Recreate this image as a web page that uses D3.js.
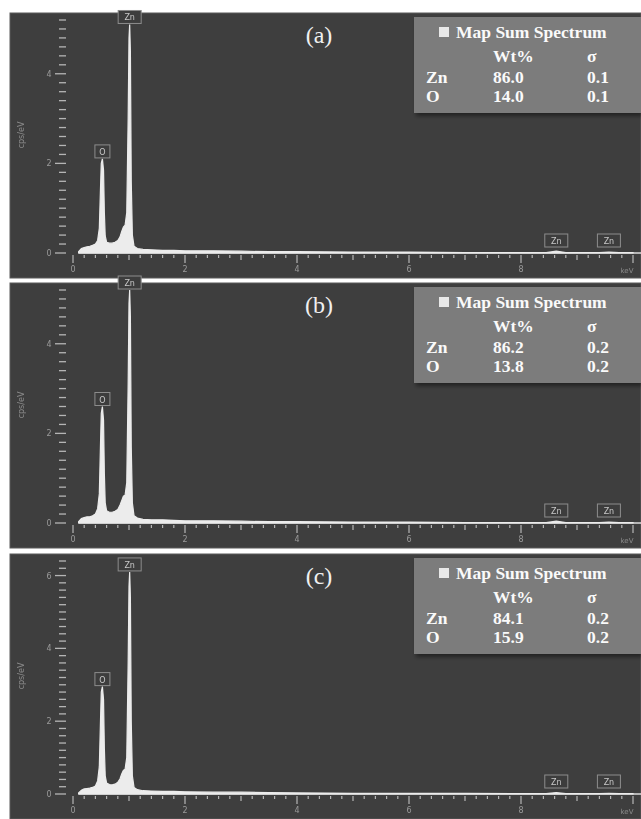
<!DOCTYPE html>
<html>
<head>
<meta charset="utf-8">
<script src="https://cdn.jsdelivr.net/npm/d3@7"></script>
<style>
  body { margin: 0; background: #fff; }
  svg { display: block; }
</style>
</head>
<body>
<div id="chart"></div>
<script>
(function () {

  /**
   * Spectrum data (cps/eV vs keV)
   */
  const energy = [0.10, 0.15, 0.20, 0.25, 0.30, 0.35, 0.40, 0.44, 0.47, 0.49, 0.505, 0.525, 0.545, 0.56, 0.575,
    0.60, 0.65, 0.70, 0.75, 0.80, 0.84, 0.87, 0.90, 0.93, 0.96, 0.985, 1.00, 1.012, 1.025, 1.04, 1.06, 1.09,
    1.15, 1.25, 1.40, 1.60, 1.80, 2.00, 2.50, 3.00, 3.50, 4.00, 5.00, 6.00, 7.00, 8.00, 8.45, 8.63, 8.80,
    9.40, 9.57, 9.75, 10.0];
  const countsA = [0.03, 0.10, 0.12, 0.14, 0.15, 0.17, 0.20, 0.28, 0.55, 1.40, 2.00, 2.10, 1.85, 0.90, 0.38,
    0.24, 0.22, 0.22, 0.24, 0.28, 0.36, 0.48, 0.58, 0.62, 0.90, 3.00, 4.80, 5.10, 4.50, 1.60, 0.40, 0.15,
    0.10, 0.08, 0.07, 0.06, 0.06, 0.05, 0.05, 0.04, 0.03, 0.03, 0.02, 0.02, 0.01, 0.01, 0.01, 0.04, 0.01,
    0.01, 0.02, 0.01, 0.01];
  const countsB = [0.03, 0.10, 0.12, 0.14, 0.14, 0.16, 0.20, 0.32, 0.65, 1.70, 2.45, 2.60, 2.30, 1.10, 0.45,
    0.27, 0.24, 0.24, 0.26, 0.30, 0.40, 0.50, 0.60, 0.62, 0.90, 3.10, 4.90, 5.20, 4.60, 1.70, 0.45, 0.16,
    0.11, 0.08, 0.07, 0.07, 0.06, 0.05, 0.05, 0.04, 0.03, 0.03, 0.02, 0.02, 0.01, 0.01, 0.01, 0.04, 0.01,
    0.01, 0.02, 0.01, 0.01];
  const countsC = [0.03, 0.10, 0.14, 0.15, 0.16, 0.18, 0.22, 0.36, 0.75, 1.95, 2.80, 2.95, 2.60, 1.25, 0.50,
    0.30, 0.26, 0.25, 0.27, 0.32, 0.42, 0.55, 0.65, 0.68, 1.00, 3.60, 5.70, 6.10, 5.40, 2.00, 0.50, 0.18,
    0.12, 0.09, 0.08, 0.07, 0.07, 0.06, 0.05, 0.05, 0.04, 0.03, 0.02, 0.02, 0.02, 0.01, 0.01, 0.04, 0.01,
    0.01, 0.02, 0.01, 0.01];

  const panelNames = ["(a)", "(b)", "(c)"];
  const yMaxes = [5.2, 5.2, 6.4];
  const yLabelTicks = [[0, 2, 4], [0, 2, 4], [0, 2, 4, 6]];
  const xLabelTicks = [0, 2, 4, 6, 8];

  const peakNames = ["O", "Zn", "Zn", "Zn"];
  const peakEnergies = [0.525, 1.012, 8.63, 9.57];

  const elements = ["Zn", "O"];
  const wtZn = ["86.0", "86.2", "84.1"];
  const wtO = ["14.0", "13.8", "15.9"];
  const sigmaZn = ["0.1", "0.2", "0.2"];
  const sigmaO = ["0.1", "0.2", "0.2"];

  const series = [countsA, countsB, countsC];

  const width = 641, height = 819;
  const panelTops = [13, 283, 554];
  const panelH = 265;
  const panelX = 10;
  const plotTop = 7, plotBase = 240;

  const svg = d3.select("#chart").append("svg")
    .attr("width", width)
    .attr("height", height);

  const defs = svg.append("defs");
  defs.append("filter").attr("id", "soft")
    .append("feGaussianBlur").attr("stdDeviation", 0.55);
  const shadow = defs.append("filter").attr("id", "shadow")
    .attr("x", "-10%").attr("y", "-10%").attr("width", "130%").attr("height", "140%");
  shadow.append("feDropShadow").attr("dx", 2).attr("dy", 3)
    .attr("stdDeviation", 2).attr("flood-color", "#000").attr("flood-opacity", 0.45);

  const x = d3.scaleLinear().domain([0, 10]).range([73, 633]);

  series.forEach(function (counts, p) {
    const top = panelTops[p];
    const g = svg.append("g").attr("transform", "translate(0," + top + ")");

    g.append("rect")
      .attr("x", panelX).attr("y", 0)
      .attr("width", width - panelX).attr("height", panelH)
      .attr("fill", "#3e3e3e")
      .attr("stroke", "#5a5a5a").attr("stroke-width", 1);

    const y = d3.scaleLinear().domain([0, yMaxes[p]]).range([plotBase, plotTop]);
    const fine = g.append("g").attr("filter", "url(#soft)");

    // y ticks
    const yMinor = d3.range(0, yMaxes[p] + 0.001, 0.2);
    fine.selectAll(".ytick").data(yMinor).enter().append("line")
      .attr("x1", d => Math.abs(d - Math.round(d)) < 0.01 && Math.round(d) % 2 === 0 ? 55 : 59)
      .attr("x2", 66)
      .attr("y1", d => y(d)).attr("y2", d => y(d))
      .attr("stroke", "#b5b5b5").attr("stroke-width", 1.3);
    fine.selectAll(".ylab").data(yLabelTicks[p]).enter().append("text")
      .attr("x", 49).attr("y", d => y(d) + 3)
      .attr("text-anchor", "middle")
      .style("font", "8px 'DejaVu Sans'")
      .style("fill", "#9a9a9a")
      .text(d => d);
    fine.append("text")
      .attr("transform", "translate(24," + (plotBase - 118) + ") rotate(-90)")
      .attr("text-anchor", "middle")
      .style("font", "8px 'DejaVu Sans'")
      .style("fill", "#8a8a8a")
      .text("cps/eV");

    // x ticks
    const xMinor = d3.range(0, 10.001, 0.2);
    fine.selectAll(".xtick").data(xMinor).enter().append("line")
      .attr("x1", d => x(d)).attr("x2", d => x(d))
      .attr("y1", plotBase + 2)
      .attr("y2", d => {
        const r = Math.round(d);
        if (Math.abs(d - r) < 0.01) return r % 2 === 0 ? plotBase + 10 : plotBase + 7;
        return plotBase + 5;
      })
      .attr("stroke", "#b5b5b5").attr("stroke-width", 1.2);
    fine.selectAll(".xlab").data(xLabelTicks).enter().append("text")
      .attr("x", d => x(d)).attr("y", plotBase + 19)
      .attr("text-anchor", "middle")
      .style("font", "8px 'DejaVu Sans'")
      .style("fill", "#9a9a9a")
      .text(d => d);
    fine.append("text")
      .attr("x", 627).attr("y", plotBase + 20)
      .attr("text-anchor", "middle")
      .style("font", "7px 'DejaVu Sans'")
      .style("fill", "#8a8a8a")
      .text("keV");

    // baseline
    fine.append("line")
      .attr("x1", x(0.1)).attr("x2", width)
      .attr("y1", plotBase).attr("y2", plotBase)
      .attr("stroke", "#dcdcdc").attr("stroke-width", 1.6);

    // spectrum
    const pts = energy.map((e, i) => ({ e: e, v: counts[i] }));
    const area = d3.area()
      .x(d => x(d.e))
      .y0(plotBase)
      .y1(d => y(d.v));
    fine.append("path")
      .datum(pts)
      .attr("d", area)
      .attr("fill", "#ececec")
      .attr("stroke", "#ececec")
      .attr("stroke-width", 1.2);

    // peak labels
    peakEnergies.forEach(function (pe, k) {
      const idx = d3.minIndex(energy, e => Math.abs(e - pe));
      const v = counts[idx];
      const name = peakNames[k];
      const w = name === "O" ? 15 : 23;
      const bottom = v > 1 ? y(v) - 1 : plotBase - 6;
      const lg = fine.append("g");
      lg.append("rect")
        .attr("x", x(pe) - w / 2).attr("y", bottom - 13)
        .attr("width", w).attr("height", 13)
        .attr("fill", "#3e3e3e")
        .attr("stroke", "#8c8c8c").attr("stroke-width", 1);
      lg.append("text")
        .attr("x", x(pe)).attr("y", bottom - 3)
        .attr("text-anchor", "middle")
        .style("font", "8px 'DejaVu Sans'")
        .style("fill", "#c8c8c8")
        .text(name);
    });

    // panel name
    g.append("text")
      .attr("x", 319).attr("y", 30)
      .attr("text-anchor", "middle")
      .style("font", "24px 'Liberation Serif'")
      .style("fill", "#f0f0f0")
      .text(panelNames[p]);

    // quantification box
    const box = g.append("g").attr("transform", "translate(414,4)");
    box.append("rect")
      .attr("width", 227).attr("height", 96)
      .attr("fill", "#7b7b7b")
      .attr("filter", "url(#shadow)");
    box.append("rect")
      .attr("x", 25).attr("y", 10).attr("width", 10).attr("height", 10)
      .attr("fill", "#e8e8e8");
    const tStyle = "bold 17.5px 'Liberation Serif'";
    box.append("text").attr("x", 42).attr("y", 21)
      .style("font", tStyle).style("fill", "#fafafa").text("Map Sum Spectrum");
    box.append("text").attr("x", 79).attr("y", 45)
      .style("font", tStyle).style("fill", "#fafafa").text("Wt%");
    box.append("text").attr("x", 173).attr("y", 45)
      .style("font", tStyle).style("fill", "#fafafa").text("σ");
    const rows = [[elements[0], wtZn[p], sigmaZn[p]], [elements[1], wtO[p], sigmaO[p]]];
    rows.forEach(function (r, i) {
      const ry = 66 + i * 19;
      box.append("text").attr("x", 12).attr("y", ry)
        .style("font", tStyle).style("fill", "#fafafa").text(r[0]);
      box.append("text").attr("x", 79).attr("y", ry)
        .style("font", tStyle).style("fill", "#fafafa").text(r[1]);
      box.append("text").attr("x", 173).attr("y", ry)
        .style("font", tStyle).style("fill", "#fafafa").text(r[2]);
    });
  });

})();
</script>
</body>
</html>
